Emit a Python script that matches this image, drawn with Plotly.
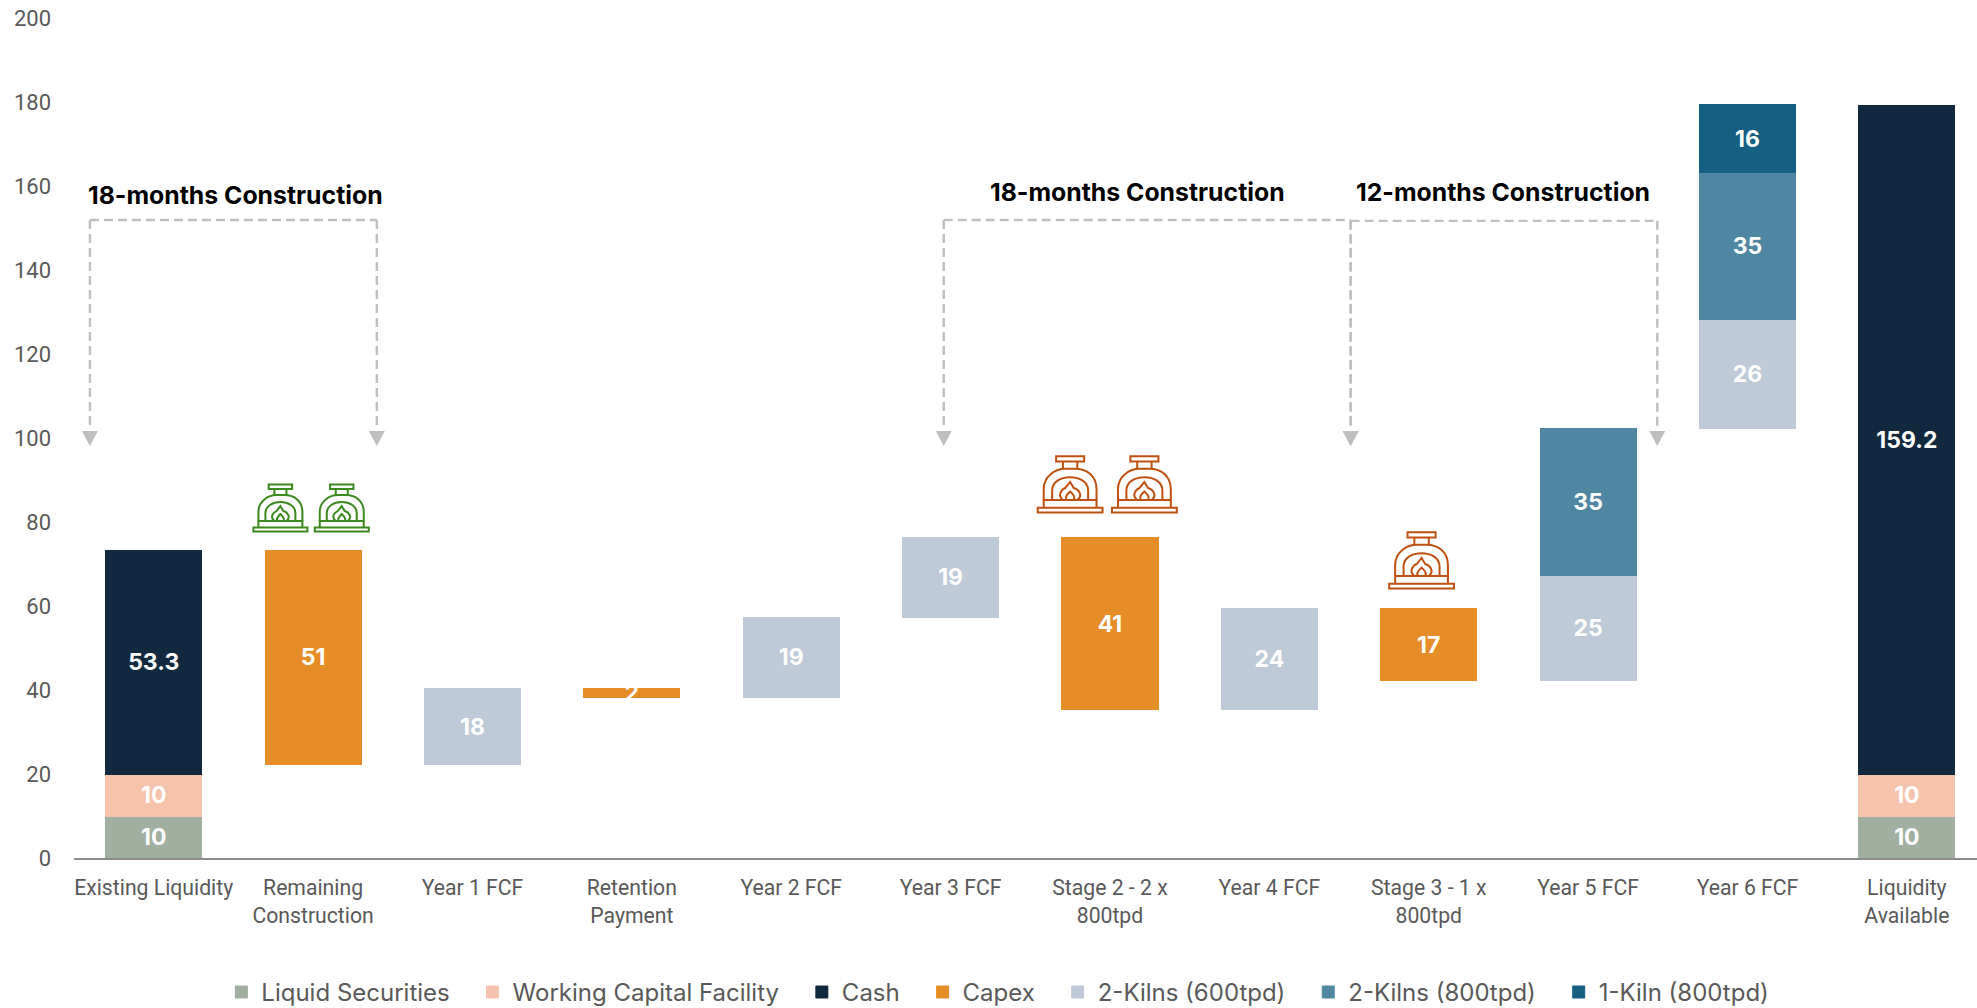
import plotly.graph_objects as go

categories = ["Existing Liquidity", "Remaining<br>Construction", "Year 1 FCF", "Retention<br>Payment",
              "Year 2 FCF", "Year 3 FCF", "Stage 2 - 2 x<br>800tpd", "Year 4 FCF",
              "Stage 3 - 1 x<br>800tpd", "Year 5 FCF", "Year 6 FCF", "Liquidity<br>Available"]
blank = [None, 22.3, 22.3, 38.3, 38.3, 57.3, 35.3, 35.3, 42.3, 42.3, 102.3, None]
liquid_securities = [10, None, None, None, None, None, None, None, None, None, None, 10]
working_capital = [10, None, None, None, None, None, None, None, None, None, None, 10]
cash = [53.3, None, None, None, None, None, None, None, None, None, None, 159.2]
capex = [None, 51, None, 2, None, None, 41, None, 17, None, None, None]
kilns_600 = [None, None, 18, None, 19, 19, None, 24, None, 25, 26, None]
kilns_800 = [None, None, None, None, None, None, None, None, None, 35, 35, None]
kiln_1_800 = [None, None, None, None, None, None, None, None, None, None, 16, None]

series = [("Liquid Securities", liquid_securities, "#A0AF9F"),
          ("Working Capital Facility", working_capital, "#F6C4AC"),
          ("Cash", cash, "#10293F"),
          ("Capex", capex, "#E78D27"),
          ("2-Kilns (600tpd)", kilns_600, "#BECAD8"),
          ("2-Kilns (800tpd)", kilns_800, "#4F86A2"),
          ("1-Kiln (800tpd)", kiln_1_800, "#155F83")]

FONT = "Inter"
TICK_FONT = "Roboto"
GRAY = "#595959"
AXIS = "#8C8C8C"
BRACKET = "#BFBFBF"
GREEN = "#3B8A1E"
RUST = "#C0500F"
LEGEND_PAD = "\u00a0\u00a0\u2009"

brackets = [(-0.40, 1.40, 151.9), (4.957, 7.51, 151.9), (7.51, 9.434, 151.7)]
bracket_bottom = 102.2
arrow_tip = 98.1
bracket_labels = [("18-months Construction", 0.515, 157.9),
                  ("18-months Construction", 6.175, 158.6),
                  ("12-months Construction", 8.463, 158.6)]
icons = [(0.795, 77.6, 1.0, GREEN), (1.18, 77.6, 1.0, GREEN),
         (5.75, 82.1, 1.2, RUST), (6.216, 82.1, 1.2, RUST), (7.955, 64.0, 1.2, RUST)]

fig = go.Figure()
fig.add_bar(x=categories, y=blank, marker=dict(color="rgba(0,0,0,0)", line_width=0), showlegend=False, hoverinfo="skip")
for name, vals, color in series:
    fig.add_bar(x=categories, y=vals, name=name + LEGEND_PAD, marker=dict(color=color, line=dict(color=color, width=1)),
                text=[None if v is None else str(v) for v in vals],
                textposition="inside", insidetextanchor="middle",
                textangle=0, constraintext="none",
                insidetextfont=dict(family=FONT, size=23, color="white", weight="bold"))


def icon_paths(scale):
    H = 48.0
    def p(x, y):
        return f"{x*scale:.2f},{(H-y)*scale:.2f}"
    def rect(x0, y0, x1, y1):
        return f"M{p(x0,y0)} L{p(x1,y0)} L{p(x1,y1)} L{p(x0,y1)} Z"
    return [
        rect(-27, 43.5, 27, 47.5),
        f"M{p(-22,43.5)} L{p(-22,37)} L{p(22,37)} L{p(22,43.5)}",
        rect(-11.7, 0.5, 11.7, 5),
        f"M{p(-6,5)} L{p(-6,11)} M{p(6,5)} L{p(6,11)}",
        f"M{p(-22,37)} L{p(-22,28)} C{p(-22,17)} {p(-12,11)} {p(-4,11)} L{p(4,11)} C{p(14,11)} {p(22,17)} {p(22,28)} L{p(22,37)}",
        f"M{p(-15,37)} L{p(-15,29)} C{p(-15,22)} {p(-8,18)} {p(0,18)} C{p(8,18)} {p(15,22)} {p(15,29)} L{p(15,37)}",
        f"M{p(-6,37)} C{p(-11,33)} {p(-7,28)} {p(-4,27)} L{p(0,22)} L{p(3,27)} C{p(7,28)} {p(11,33)} {p(6,37)}",
        f"M{p(-3,37)} C{p(-5,34)} {p(-2,32)} {p(0,30)} C{p(2,32)} {p(5,34)} {p(3,37)}",
    ]


shapes = []
dash_line = dict(color=BRACKET, width=2.4, dash="9px,5px")
for x0, x1, top in brackets:
    for ax in (x0, x1):
        shapes.append(dict(type="line", xref="x", yref="y", x0=ax, x1=ax, y0=top, y1=bracket_bottom, line=dash_line))
        shapes.append(dict(type="path", xref="x", yref="y", xsizemode="pixel", ysizemode="pixel",
                           xanchor=ax, yanchor=arrow_tip, path="M-8,15 L8,15 L0,0 Z",
                           fillcolor=BRACKET, line_width=0))
    shapes.append(dict(type="line", xref="x", yref="y", x0=x0, x1=x1, y0=top, y1=top, line=dash_line))
for ix, iy, scale, color in icons:
    for path in icon_paths(scale):
        shapes.append(dict(type="path", xref="x", yref="y", xsizemode="pixel", ysizemode="pixel",
                           xanchor=ix, yanchor=iy, path=path, line=dict(color=color, width=2)))

annotations = [dict(text=t, x=ax, y=ay, xref="x", yref="y", showarrow=False, xanchor="center", yanchor="middle",
                    font=dict(family=FONT, size=24.8, color="black", weight="bold"))
               for t, ax, ay in bracket_labels]

fig.update_layout(
    barmode="stack", bargap=0.397, width=1977, height=1008, autosize=False,
    margin=dict(l=74, r=0, t=18, b=150.3, autoexpand=False),
    plot_bgcolor="white", paper_bgcolor="white",
    shapes=shapes, annotations=annotations, showlegend=True,
    font=dict(family=FONT, color=GRAY),
    legend=dict(orientation="h", x=0.4902, xanchor="center", y=-0.16, yanchor="middle",
                font=dict(family=FONT, size=24, color=GRAY), traceorder="normal"),
    xaxis=dict(type="category", categoryorder="array", categoryarray=categories, range=[-0.5, 11.44],
               showline=True, linecolor=AXIS, linewidth=2, showgrid=False, ticks="", zeroline=False,
               ticklabelstandoff=10, tickfont=dict(family=TICK_FONT, size=21.2, color=GRAY), automargin=False),
    yaxis=dict(range=[0, 200], dtick=20, showgrid=False, zeroline=False, showline=False, ticks="",
               ticklabelstandoff=22, tickfont=dict(family=TICK_FONT, size=22, color=GRAY), automargin=False),
)
fig.write_html("out.html", config={"displayModeBar": False},
               post_script="document.body.style.margin='0';document.body.style.overflow='hidden';")
